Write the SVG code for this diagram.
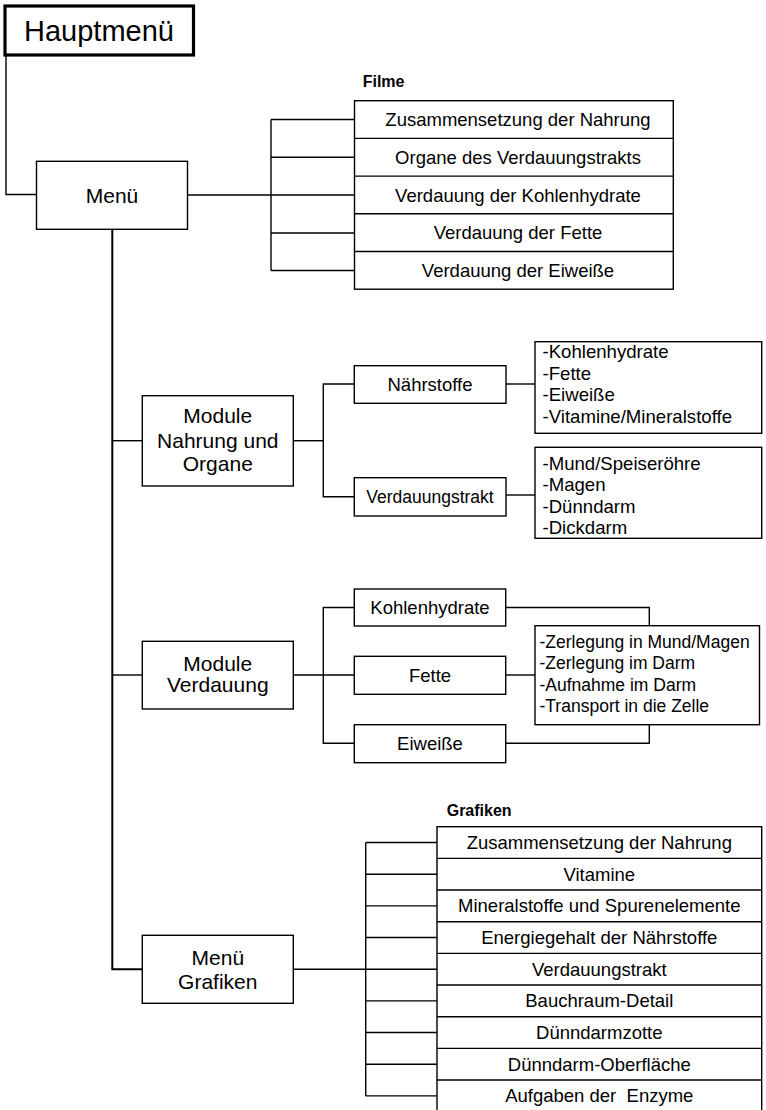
<svg xmlns="http://www.w3.org/2000/svg" width="766" height="1110" viewBox="0 0 766 1110">
<style>
  .bx{fill:#fff;stroke:#000;stroke-width:1.4}
  .thick{fill:#fff;stroke:#000;stroke-width:3.2}
  .ln{fill:none;stroke:#000;stroke-width:1.4}
  .main{fill:none;stroke:#000;stroke-width:2}
  text{font-family:"Liberation Sans",Arial,sans-serif;fill:#000}
  .c{text-anchor:middle}
  .s{font-size:18.5px}
  .m{font-size:21px}
  .l{font-size:18.6px}
  .z{font-size:17.5px}
  .h{font-size:16px;font-weight:bold}
</style>
<rect width="766" height="1110" fill="#fff"/>
<g id="connectors">
  <polyline class="ln" points="6,55 6,194.5 36.5,194.5"/>
  <polyline class="main" points="112.3,229.3 112.3,969.3 142.3,969.3"/>
  <line class="ln" x1="187.5" y1="195" x2="354.5" y2="195"/>
  <line class="ln" x1="271" y1="119.5" x2="271" y2="270.5"/>
  <line class="ln" x1="271" y1="119.5" x2="354.5" y2="119.5"/>
  <line class="ln" x1="271" y1="157.2" x2="354.5" y2="157.2"/>
  <line class="ln" x1="271" y1="233" x2="354.5" y2="233"/>
  <line class="ln" x1="271" y1="270.5" x2="354.5" y2="270.5"/>
  <line class="ln" x1="112.3" y1="440.7" x2="142.3" y2="440.7"/>
  <line class="ln" x1="293.3" y1="440.7" x2="323.3" y2="440.7"/>
  <polyline class="ln" points="354.3,384 323.3,384 323.3,496.7 354.3,496.7"/>
  <line class="ln" x1="506" y1="384" x2="535" y2="384"/>
  <line class="ln" x1="506" y1="495" x2="535" y2="495"/>
  <line class="ln" x1="112.3" y1="675" x2="142.3" y2="675"/>
  <line class="ln" x1="293.3" y1="675" x2="354.3" y2="675"/>
  <polyline class="ln" points="354.3,607.5 323.3,607.5 323.3,743.3 354.3,743.3"/>
  <polyline class="ln" points="505.7,607.5 649.3,607.5 649.3,625.7"/>
  <line class="ln" x1="505.7" y1="675" x2="535" y2="675"/>
  <polyline class="ln" points="505.7,743.3 649.3,743.3 649.3,724.7"/>
  <line class="ln" x1="293.3" y1="969.3" x2="437" y2="969.3"/>
  <line class="ln" x1="365.7" y1="842.5" x2="365.7" y2="1095.9"/>
  <line class="ln" x1="365.7" y1="842.5" x2="437" y2="842.5"/>
  <line class="ln" x1="365.7" y1="874.2" x2="437" y2="874.2"/>
  <line class="ln" x1="365.7" y1="905.9" x2="437" y2="905.9"/>
  <line class="ln" x1="365.7" y1="937.5" x2="437" y2="937.5"/>
  <line class="ln" x1="365.7" y1="1000.9" x2="437" y2="1000.9"/>
  <line class="ln" x1="365.7" y1="1032.5" x2="437" y2="1032.5"/>
  <line class="ln" x1="365.7" y1="1064.2" x2="437" y2="1064.2"/>
  <line class="ln" x1="365.7" y1="1095.9" x2="437" y2="1095.9"/>
</g>
<g id="hauptmenue">
  <rect class="thick" x="5" y="6" width="188.5" height="49"/>
  <text x="99" y="41" class="c" style="font-size:29px">Hauptmenü</text>
</g>
<g id="menue">
  <rect class="bx" x="36.5" y="161.3" width="151" height="68"/>
  <text x="112" y="202.5" class="c m">Menü</text>
</g>
<g id="filme">
  <text x="362.7" y="87" class="h">Filme</text>
  <rect class="bx" x="354.5" y="100.7" width="318.8" height="188.5"/>
  <line class="ln" x1="354.5" y1="138.4" x2="673.3" y2="138.4"/>
  <line class="ln" x1="354.5" y1="176.1" x2="673.3" y2="176.1"/>
  <line class="ln" x1="354.5" y1="213.8" x2="673.3" y2="213.8"/>
  <line class="ln" x1="354.5" y1="251.5" x2="673.3" y2="251.5"/>
  <text x="518" y="126" class="c s">Zusammensetzung der Nahrung</text>
  <text x="518" y="163.7" class="c s">Organe des Verdauungstrakts</text>
  <text x="518" y="201.5" class="c s">Verdauung der Kohlenhydrate</text>
  <text x="518" y="239.2" class="c s">Verdauung der Fette</text>
  <text x="518" y="276.8" class="c s">Verdauung der Eiweiße</text>
</g>
<g id="module-nahrung">
  <rect class="bx" x="142.3" y="395.7" width="151" height="90.3"/>
  <text x="217.8" y="423.3" class="c m">Module</text>
  <text x="217.8" y="447.5" class="c m">Nahrung und</text>
  <text x="217.8" y="471.3" class="c m">Organe</text>
</g>
<g id="naehrstoffe">
  <rect class="bx" x="354.3" y="365.7" width="151.7" height="37.6"/>
  <text x="430" y="390.8" class="c s">Nährstoffe</text>
</g>
<g id="verdauungstrakt">
  <rect class="bx" x="354.3" y="477.7" width="151.7" height="38.3"/>
  <text x="430" y="503" class="c" style="font-size:17.5px">Verdauungstrakt</text>
</g>
<g id="liste-naehrstoffe">
  <rect class="bx" x="535" y="341.7" width="226.7" height="91.6"/>
  <text x="542.5" y="358.3" class="l">-Kohlenhydrate</text>
  <text x="542.5" y="379.8" class="l">-Fette</text>
  <text x="542.5" y="401" class="l">-Eiweiße</text>
  <text x="542.5" y="422.5" class="l">-Vitamine/Mineralstoffe</text>
</g>
<g id="liste-organe">
  <rect class="bx" x="535" y="447.3" width="226.7" height="91"/>
  <text x="542.5" y="469.8" class="l">-Mund/Speiseröhre</text>
  <text x="542.5" y="491.3" class="l">-Magen</text>
  <text x="542.5" y="512.8" class="l">-Dünndarm</text>
  <text x="542.5" y="534.3" class="l">-Dickdarm</text>
</g>
<g id="module-verdauung">
  <rect class="bx" x="142.3" y="641.3" width="151" height="67.7"/>
  <text x="217.8" y="670.5" class="c m">Module</text>
  <text x="217.8" y="692" class="c m">Verdauung</text>
</g>
<g id="kohlenhydrate">
  <rect class="bx" x="354.3" y="589" width="151.4" height="37"/>
  <text x="430" y="614" class="c s">Kohlenhydrate</text>
</g>
<g id="fette">
  <rect class="bx" x="354.3" y="656.3" width="151.4" height="38"/>
  <text x="430" y="681.8" class="c s">Fette</text>
</g>
<g id="eiweisse">
  <rect class="bx" x="354.3" y="724.7" width="151.4" height="38"/>
  <text x="430" y="750" class="c s">Eiweiße</text>
</g>
<g id="liste-verdauung">
  <rect class="bx" x="535" y="625.7" width="224.5" height="99"/>
  <text x="539.5" y="647.5" class="z">-Zerlegung in Mund/Magen</text>
  <text x="539.5" y="669" class="z">-Zerlegung im Darm</text>
  <text x="539.5" y="690.5" class="z">-Aufnahme im Darm</text>
  <text x="539.5" y="712" class="z">-Transport in die Zelle</text>
</g>
<g id="menue-grafiken">
  <rect class="bx" x="142.3" y="935.3" width="151" height="68"/>
  <text x="217.8" y="965" class="c m">Menü</text>
  <text x="217.8" y="988.5" class="c m">Grafiken</text>
</g>
<g id="grafiken">
  <text x="446.7" y="816" class="h">Grafiken</text>
  <rect class="bx" x="437" y="826.7" width="324.7" height="285"/>
  <line class="ln" x1="437" y1="858.4" x2="761.7" y2="858.4"/>
  <line class="ln" x1="437" y1="890" x2="761.7" y2="890"/>
  <line class="ln" x1="437" y1="921.7" x2="761.7" y2="921.7"/>
  <line class="ln" x1="437" y1="953.4" x2="761.7" y2="953.4"/>
  <line class="ln" x1="437" y1="985" x2="761.7" y2="985"/>
  <line class="ln" x1="437" y1="1016.7" x2="761.7" y2="1016.7"/>
  <line class="ln" x1="437" y1="1048.4" x2="761.7" y2="1048.4"/>
  <line class="ln" x1="437" y1="1080" x2="761.7" y2="1080"/>
  <text x="599.3" y="848.8" class="c s">Zusammensetzung der Nahrung</text>
  <text x="599.3" y="880.5" class="c s">Vitamine</text>
  <text x="599.3" y="912.2" class="c s">Mineralstoffe und Spurenelemente</text>
  <text x="599.3" y="943.8" class="c s">Energiegehalt der Nährstoffe</text>
  <text x="599.3" y="975.5" class="c s">Verdauungstrakt</text>
  <text x="599.3" y="1007.2" class="c s">Bauchraum-Detail</text>
  <text x="599.3" y="1038.8" class="c s">Dünndarmzotte</text>
  <text x="599.3" y="1070.5" class="c s">Dünndarm-Oberfläche</text>
  <text x="599.3" y="1102.2" class="c s" style="white-space:pre">Aufgaben der  Enzyme</text>
</g>
</svg>
